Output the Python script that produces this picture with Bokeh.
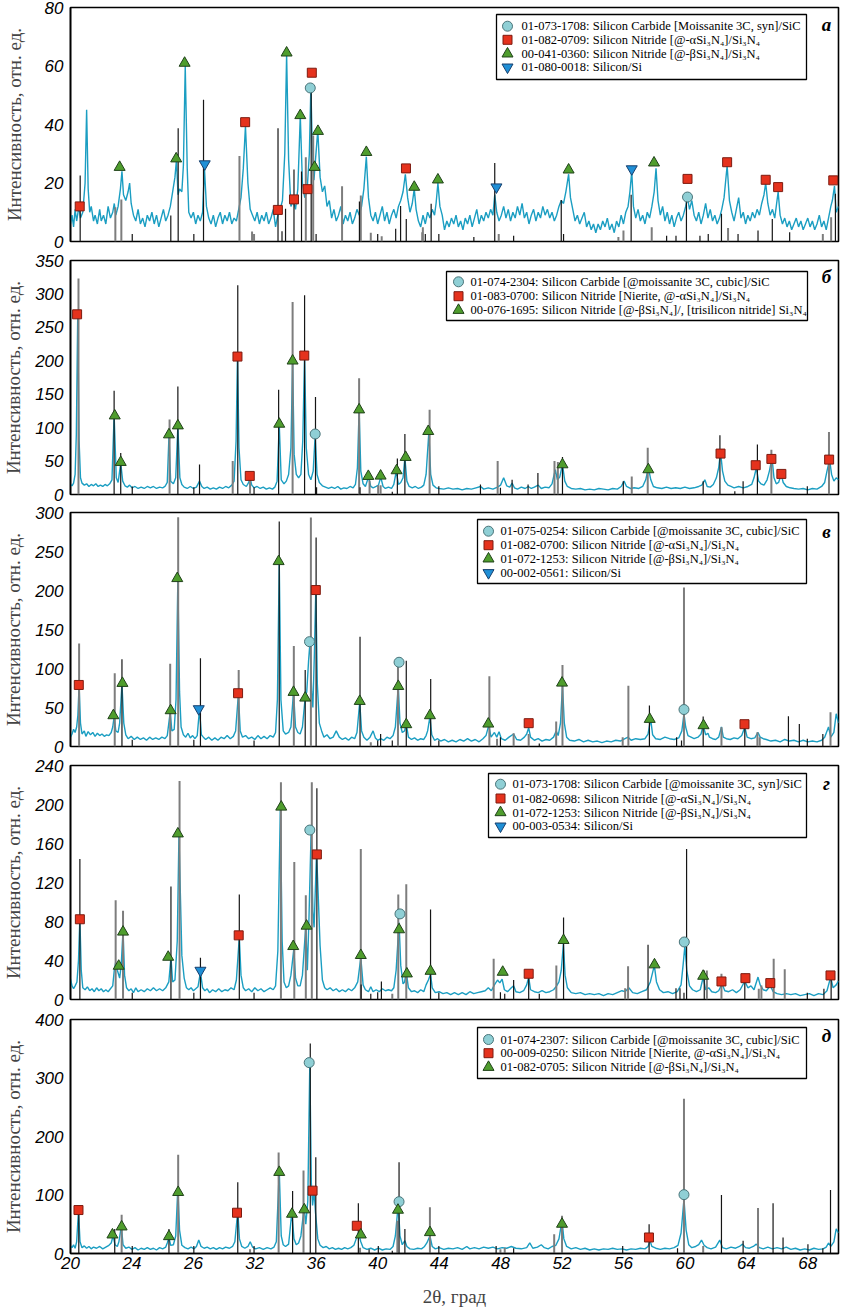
from bokeh.plotting import figure
from bokeh.layouts import column
from bokeh.models import Range1d, FixedTicker
from bokeh.core.properties import value
from bokeh.embed import file_html
from bokeh.resources import INLINE

# ---------------- data ----------------
x_ticks = [20, 24, 28, 32, 36, 40, 44, 48, 52, 56, 60, 64, 68]
x_tick_labels = ["20", "24", "26", "32", "36", "40", "44", "48", "52", "56", "60", "64", "68"]

# panel а
a_curve = [(20.0,6),(20.1,9),(20.2,5),(20.3,11),(20.4,7),(20.55,12),(20.65,8),(20.8,10),(20.95,20),(21.05,45),
 (21.15,18),(21.25,10),(21.35,12),(21.5,7),(21.6,9),(21.75,6),(21.9,11),(22.0,7),(22.15,9),(22.3,6),(22.45,12),
 (22.6,8),(22.75,10),(22.85,13),(22.95,9),(23.1,12),(23.25,18),(23.35,24),(23.45,16),(23.6,14),(23.75,17),(23.85,20),
 (23.95,13),(24.1,9),(24.25,7),(24.4,11),(24.55,6),(24.7,8),(24.85,5),(25.0,9),(25.15,7),(25.3,10),(25.45,6),(25.6,9),
 (25.75,5),(25.9,8),(26.05,11),(26.2,7),(26.35,9),(26.5,12),(26.65,17),(26.8,22),(26.9,28),(27.0,16),(27.1,18),
 (27.25,17),(27.35,26),(27.47,60),(27.6,25),(27.7,10),(27.85,8),(28.0,10),(28.15,6),(28.3,9),(28.45,7),(28.6,10),
 (28.72,25),(28.85,12),(29.0,8),(29.15,6),(29.3,9),(29.45,5),(29.6,8),(29.75,10),(29.9,6),(30.05,9),(30.2,7),
 (30.35,10),(30.5,6),(30.65,8),(30.8,7),(30.95,11),(31.1,15),(31.25,25),(31.39,39.5),(31.55,20),(31.7,11),(31.85,9),
 (32.0,7),(32.15,10),(32.3,6),(32.45,9),(32.6,7),(32.75,10),(32.9,6),(33.05,8),(33.2,11),(33.35,5),(33.5,9),
 (33.65,11),(33.8,14),(33.95,30),(34.07,64),(34.2,28),(34.35,12),(34.5,14),(34.65,11),(34.8,18),(34.96,43),(35.1,20),
 (35.25,15),(35.4,17),(35.55,30),(35.65,53),(35.75,30),(35.85,21),(35.95,28),(36.1,38),(36.25,22),(36.4,17),
 (36.55,19),(36.7,12),(36.85,14),(37.0,8),(37.15,11),(37.3,7),(37.45,9),(37.6,12),(37.75,6),(37.9,9),(38.05,7),
 (38.2,10),(38.35,6),(38.5,8),(38.65,11),(38.8,9),(38.95,12),(39.1,18),(39.26,29),(39.4,15),(39.55,9),(39.7,7),
 (39.85,10),(40.0,6),(40.15,9),(40.3,12),(40.45,7),(40.6,10),(40.75,6),(40.9,9),(41.05,11),(41.2,8),(41.35,12),
 (41.5,14),(41.65,17),(41.8,23),(41.95,15),(42.1,10),(42.25,13),(42.38,18),(42.5,11),(42.65,7),(42.8,5),(42.95,9),
 (43.1,6),(43.25,10),(43.4,8),(43.55,11),(43.7,9),(43.8,13),(43.92,20),(44.05,12),(44.2,9),(44.35,4),(44.5,7),
 (44.65,5),(44.8,8),(44.95,6),(45.1,9),(45.25,5),(45.4,7),(45.55,4),(45.7,8),(45.85,6),(46.0,9),(46.15,5),(46.3,8),
 (46.45,11),(46.6,6),(46.75,9),(46.9,7),(47.05,10),(47.2,8),(47.35,11),(47.5,9),(47.62,16),(47.75,10),(47.9,7),
 (48.05,9),(48.2,12),(48.35,8),(48.5,11),(48.65,7),(48.8,10),(48.95,8),(49.1,12),(49.25,9),(49.4,13),(49.55,8),
 (49.7,10),(49.85,6),(50.0,9),(50.15,11),(50.3,7),(50.45,10),(50.6,8),(50.75,12),(50.9,9),(51.05,11),(51.2,8),
 (51.35,10),(51.5,7),(51.65,9),(51.8,12),(51.95,14),(52.1,13),(52.25,17),(52.43,23),(52.55,15),(52.7,11),(52.85,7),
 (53.0,9),(53.15,6),(53.3,8),(53.45,10),(53.6,5),(53.75,7),(53.9,4),(54.05,6),(54.2,3),(54.35,6),(54.5,4),(54.65,7),
 (54.8,5),(54.95,8),(55.1,4),(55.25,6),(55.4,3),(55.55,7),(55.7,5),(55.85,9),(56.0,6),(56.15,10),(56.3,12),
 (56.42,17),(56.54,24),(56.65,12),(56.8,8),(56.95,11),(57.1,7),(57.25,9),(57.4,6),(57.55,10),(57.7,8),(57.85,12),
 (58.0,17),(58.12,25),(58.25,14),(58.4,9),(58.55,12),(58.7,7),(58.85,10),(59.0,6),(59.15,9),(59.3,5),(59.45,8),
 (59.6,10),(59.75,7),(59.9,9),(60.05,12),(60.17,15),(60.3,11),(60.45,14),(60.6,9),(60.75,7),(60.9,10),(61.05,6),
 (61.2,9),(61.35,13),(61.5,8),(61.65,11),(61.8,7),(61.95,9),(62.1,6),(62.25,8),(62.4,11),(62.55,15),(62.75,26),
 (62.9,14),(63.05,10),(63.2,7),(63.35,11),(63.5,15),(63.65,8),(63.8,10),(63.95,6),(64.1,9),(64.25,7),(64.4,10),
 (64.55,8),(64.7,11),(64.85,9),(65.0,13),(65.15,16),(65.26,20),(65.4,13),(65.55,9),(65.7,11),(65.85,8),(66.07,17),
 (66.2,9),(66.35,6),(66.5,8),(66.65,5),(66.8,7),(66.95,4),(67.1,6),(67.25,8),(67.4,5),(67.55,7),(67.7,4),(67.85,6),
 (68.0,8),(68.15,5),(68.3,7),(68.45,4),(68.6,6),(68.75,9),(68.9,5),(69.05,7),(69.2,4),(69.35,8),(69.5,12),(69.6,14),
 (69.74,19),(69.85,10),(70.0,12)]
a_dark = [(20.63,22.6),(24.02,2.6),(26.53,8.9),(27.01,38.7),(28.03,2.6),(28.66,48.5),(33.51,38.7),(33.77,3.5),
 (34.0,11.2),(34.55,24.6),(35.04,23.9),(35.67,52.5),(35.99,2.6),(38.81,13.7),(40.0,2.6),(41.17,4.4),(41.49,12.1),
 (41.86,7.7),(43.1,2.6),(43.48,12.9),(43.98,2.6),(46.26,1.5),(47.62,26.8),(48.85,2.0),(51.95,14.2),(52.1,2.6),
 (56.5,16.0),(58.81,2.0),(59.42,2.0),(60.1,15.2),(60.98,2.0),(61.52,2.6),(62.38,9.5),(63.46,2.6),(64.76,3.8),
 (65.69,7.7),(66.82,3.2),(69.8,16.3)]
a_light = [(22.92,11.7),(23.31,14.4),(31.0,29.2),(31.82,3.4),(31.95,2.6),(35.32,28.8),(35.8,36.2),(37.68,18.9),
 (38.9,15.7),(39.55,3.0),(40.26,1.8),(42.9,3.2),(42.94,4.9),(47.88,2.6),(55.67,1.5),(56.0,3.8),(57.84,4.9),
 (62.81,4.6),(68.98,2.6),(69.52,8.3)]
a_sic = [(35.61,52.5),(60.17,15.2)]
a_alpha = [(20.6,12.0),(31.37,40.8),(33.5,10.8),(34.55,14.4),(35.43,17.9),(35.71,57.7),(41.84,25.0),(60.17,21.4),
 (62.75,27.1),(65.26,21.1),(66.07,18.6),(69.66,20.9)]
a_beta = [(23.2,25.4),(26.88,28.3),(27.43,61.0),(34.07,64.5),(34.96,43.1),(35.89,25.4),(36.11,37.7),(39.26,30.5),
 (42.38,18.6),(43.92,21.1),(52.43,24.5),(57.99,26.9)]
a_si = [(28.74,26.5),(47.73,18.6),(56.54,24.8)]
a_legend = ["01-073-1708: Silicon Carbide [Moissanite 3C, syn]/SiC",
            "01-082-0709: Silicon Nitride [@-αSi₃N₄]/Si₃N₄",
            "00-041-0360: Silicon Nitride [@-βSi₃N₄]/Si₃N₄",
            "01-080-0018: Silicon/Si"]
a_yticks = [0, 20, 40, 60, 80]

# panel б
b_curve = [(20.0,15),(20.1,13),(20.2,17),(20.3,30),(20.38,90),(20.47,266),(20.56,80),(20.65,25),(20.75,17),(20.9,14),
 (21.05,16),(21.2,12),(21.35,15),(21.5,13),(21.65,16),(21.8,12),(21.95,14),(22.1,12),(22.25,15),(22.4,13),(22.55,16),
 (22.7,22),(22.84,119),(22.98,25),(23.1,18),(23.27,47),(23.4,20),(23.55,13),(23.7,11),(23.85,14),(24.0,10),(24.2,12),
 (24.4,9),(24.6,11),(24.8,9),(25.0,12),(25.2,10),(25.4,12),(25.6,9),(25.8,11),(26.0,10),(26.15,12),(26.3,18),
 (26.41,87),(26.52,20),(26.7,16),(26.85,25),(26.99,102),(27.12,25),(27.25,15),(27.4,11),(27.6,9),(27.8,12),(28.0,9),
 (28.2,11),(28.4,20),(28.55,12),(28.7,9),(28.9,11),(29.1,8),(29.3,10),(29.5,8),(29.7,11),(29.9,9),(30.1,12),
 (30.3,10),(30.5,14),(30.65,20),(30.78,80),(30.87,206),(30.97,70),(31.1,22),(31.25,15),(31.45,12),(31.6,18),
 (31.69,25),(31.8,14),(31.95,10),(32.15,12),(32.35,9),(32.55,11),(32.75,8),(32.95,10),(33.15,8),(33.3,11),(33.45,20),
 (33.59,105),(33.72,22),(33.9,16),(34.05,20),(34.2,30),(34.35,70),(34.46,199),(34.56,60),(34.7,30),(34.85,25),
 (35.0,30),(35.12,80),(35.24,209),(35.35,70),(35.5,30),(35.65,22),(35.8,35),(35.93,89),(36.05,30),(36.2,18),
 (36.4,13),(36.6,11),(36.8,9),(37.0,11),(37.2,9),(37.4,12),(37.6,8),(37.8,10),(38.0,9),(38.2,12),(38.4,10),
 (38.55,15),(38.68,40),(38.79,127),(38.9,35),(39.05,16),(39.2,12),(39.4,26),(39.55,12),(39.7,10),(39.9,12),
 (40.05,14),(40.2,26),(40.35,12),(40.5,9),(40.7,11),(40.9,9),(41.05,15),(41.21,35),(41.35,15),(41.5,18),(41.65,25),
 (41.77,55),(41.9,20),(42.05,12),(42.25,10),(42.45,12),(42.65,9),(42.85,11),(43.0,14),(43.15,30),(43.33,93),
 (43.45,30),(43.6,14),(43.8,10),(44.0,9),(44.3,8),(44.6,10),(44.9,8),(45.2,9),(45.5,7),(45.8,9),(46.1,8),(46.4,10),
 (46.7,12),(46.9,8),(47.2,10),(47.5,8),(47.8,11),(48.0,14),(48.2,25),(48.4,13),(48.6,11),(48.75,17),(48.9,10),
 (49.1,8),(49.35,11),(49.6,9),(49.8,12),(50.0,9),(50.2,11),(50.45,14),(50.65,9),(50.9,11),(51.15,10),(51.35,16),
 (51.56,37),(51.7,22),(51.85,26),(52.03,45),(52.18,20),(52.35,12),(52.6,9),(52.9,8),(53.2,9),(53.5,7),(53.8,8),
 (54.1,7),(54.4,9),(54.7,8),(55.0,7),(55.3,9),(55.6,8),(55.85,12),(56.04,20),(56.2,12),(56.45,9),(56.7,10),(57.0,9),
 (57.25,12),(57.45,22),(57.62,40),(57.78,22),(57.95,12),(58.2,10),(58.5,9),(58.8,11),(59.1,9),(59.4,10),(59.7,9),
 (60.0,11),(60.3,9),(60.6,10),(60.9,12),(61.1,14),(61.3,22),(61.45,12),(61.65,11),(61.85,15),(62.05,25),(62.2,40),
 (62.32,64),(62.45,35),(62.6,20),(62.8,14),(63.0,12),(63.2,10),(63.5,12),(63.8,10),(64.1,12),(64.35,15),(64.5,25),
 (64.65,40),(64.8,20),(64.95,16),(65.15,14),(65.35,22),(65.5,35),(65.67,55),(65.8,25),(65.95,16),(66.1,18),
 (66.27,30),(66.4,18),(66.6,12),(66.85,10),(67.1,9),(67.4,8),(67.7,9),(68.0,7),(68.3,9),(68.6,8),(68.9,12),
 (69.1,18),(69.25,35),(69.42,52),(69.55,30),(69.7,20),(69.85,25),(70.0,22)]
b_dark = [(22.84,155),(23.27,62),(24.02,12),(26.99,161.6),(28.03,11),(28.4,45),(30.89,313),(31.95,11),(33.55,156.6),
 (35.24,298),(35.95,145.7),(36.02,11),(38.85,11),(40.95,4),(41.28,53.7),(41.77,90.5),(43.98,12.4),(46.69,15),
 (47.99,10),(48.75,22),(49.79,15),(50.43,32),(52.03,56),(55.99,20),(61.19,20),(62.28,88.5),(63.25,5),(63.79,20),
 (64.72,74.6),(67.97,12.4)]
b_light = [(20.52,323),(26.45,112),(30.56,50),(31.69,25),(34.46,288),(38.79,174),(39.47,21),(40.03,14),(40.19,14),
 (43.38,126.8),(47.81,50),(51.51,50),(51.73,48.5),(56.54,27),(57.58,70),(65.63,67),(69.38,93.5)]
b_sic = [(35.93,90.5)]
b_alpha = [(20.43,269.5),(30.87,206.3),(31.67,27.8),(35.22,207.8),(62.32,61.2),(64.61,43.8),(65.63,53.2),
 (66.28,30.8),(69.39,52.2)]
b_beta = [(22.88,117.8),(23.27,48.2),(26.41,89.5),(26.99,102.9),(33.59,105.4),(34.46,199.9),(38.79,126.8),
 (39.39,27.3),(40.19,27.8),(41.23,35.8),(41.82,55.7),(43.29,94.5),(52.03,44.7),(57.62,37.3)]
b_si = []
b_legend = ["01-074-2304: Silicon Carbide [@moissanite 3C, cubic]/SiC",
            "01-083-0700: Silicon Nitride [Nierite, @-αSi₃N₄]/Si₃N₄",
            "00-076-1695: Silicon Nitride [@-βSi₃N₄]/, [trisilicon nitride] Si₃N₄"]
b_yticks = [0, 50, 100, 150, 200, 250, 300, 350]

# panel в
v_curve = [(20.0,12),(20.1,16),(20.2,22),(20.3,18),(20.4,25),(20.48,40),(20.56,78),(20.65,30),(20.75,16),(20.9,20),
 (21.0,13),(21.15,19),(21.3,15),(21.45,18),(21.6,13),(21.75,17),(21.9,14),(22.05,16),(22.2,13),(22.35,15),(22.5,14),
 (22.65,18),(22.75,25),(22.84,38),(22.95,20),(23.1,18),(23.2,30),(23.35,80),(23.47,30),(23.6,15),(23.75,10),
 (23.95,13),(24.15,9),(24.35,12),(24.55,9),(24.75,11),(24.95,8),(25.15,12),(25.35,9),(25.55,11),(25.75,9),(25.95,12),
 (26.15,10),(26.3,14),(26.49,44),(26.6,20),(26.75,22),(26.87,60),(26.99,215),(27.1,70),(27.2,25),(27.35,15),
 (27.5,12),(27.65,17),(27.8,11),(27.95,14),(28.1,10),(28.25,14),(28.4,48),(28.52,15),(28.65,12),(28.8,9),(29.0,12),
 (29.2,8),(29.4,11),(29.6,8),(29.8,12),(30.0,10),(30.2,14),(30.4,10),(30.6,13),(30.75,20),(30.93,67),(31.05,20),
 (31.2,12),(31.4,14),(31.6,10),(31.8,12),(32.0,9),(32.2,14),(32.4,10),(32.6,13),(32.8,10),(33.0,14),(33.2,12),
 (33.35,18),(33.47,60),(33.59,236),(33.7,60),(33.85,20),(34.0,16),(34.2,18),(34.35,25),(34.52,70),(34.65,25),
 (34.8,18),(34.95,16),(35.1,25),(35.28,63),(35.38,70),(35.5,110),(35.6,136),(35.7,70),(35.78,50),(35.88,120),
 (35.97,202),(36.07,80),(36.2,30),(36.35,20),(36.5,12),(36.7,15),(36.9,10),(37.1,12),(37.3,20),(37.5,12),(37.7,9),
 (37.9,11),(38.1,8),(38.3,12),(38.5,10),(38.65,18),(38.83,57),(38.95,20),(39.1,12),(39.3,8),(39.5,12),(39.7,20),
 (39.85,11),(40.0,8),(40.2,10),(40.4,8),(40.6,12),(40.8,10),(41.0,14),(41.15,25),(41.34,78),(41.45,30),(41.6,18),
 (41.75,20),(41.86,29),(42.0,12),(42.2,9),(42.4,11),(42.6,8),(42.8,10),(43.0,9),(43.15,14),(43.25,20),(43.4,38),
 (43.52,15),(43.7,8),(43.9,10),(44.1,7),(44.35,9),(44.6,6),(44.85,8),(45.1,6),(45.35,9),(45.6,7),(45.85,10),
 (46.1,7),(46.35,9),(46.6,6),(46.85,10),(47.05,14),(47.23,27),(47.38,12),(47.6,18),(47.75,12),(47.9,19),(48.05,10),
 (48.3,8),(48.55,12),(48.85,16),(49.05,9),(49.3,8),(49.55,12),(49.7,16),(49.83,24),(49.95,12),(50.2,8),(50.45,10),
 (50.7,7),(50.95,9),(51.2,8),(51.45,12),(51.62,20),(51.75,14),(51.9,30),(52.03,78),(52.15,30),(52.3,12),(52.5,8),
 (52.8,7),(53.1,9),(53.4,6),(53.7,8),(54.0,6),(54.3,7),(54.6,5),(54.9,7),(55.2,6),(55.5,8),(55.8,7),(56.1,10),
 (56.3,12),(56.5,8),(56.8,10),(57.1,9),(57.4,10),(57.6,16),(57.77,35),(57.9,15),(58.1,10),(58.4,9),(58.7,12),
 (59.0,10),(59.3,9),(59.6,11),(59.8,20),(59.94,42),(60.05,25),(60.2,14),(60.4,12),(60.6,10),(60.85,12),(61.05,16),
 (61.19,27),(61.35,15),(61.5,17),(61.6,12),(61.8,10),(62.0,9),(62.2,12),(62.38,25),(62.5,12),(62.7,10),(62.95,9),
 (63.2,11),(63.45,10),(63.7,14),(63.9,25),(64.05,12),(64.3,10),(64.55,11),(64.76,18),(64.9,12),(65.1,10),(65.3,9),
 (65.6,7),(65.9,8),(66.2,6),(66.5,9),(66.8,7),(67.1,8),(67.4,6),(67.7,8),(68.0,6),(68.3,7),(68.6,6),(68.9,8),
 (69.1,12),(69.35,25),(69.5,12),(69.7,18),(69.85,42),(70.0,30)]
v_dark = [(23.35,112),(24.02,8.5),(28.03,8.5),(28.46,113),(31.95,7.7),(33.59,288.5),(35.28,98),(35.99,268),
 (38.85,140.8),(40.0,7.7),(40.19,16),(40.95,7.7),(41.86,110),(43.45,86.6),(43.98,7.7),(47.99,12),(50.52,4),
 (57.69,52.5),(59.46,12),(59.78,7.7),(61.19,38.4),(63.9,34),(66.74,38.8),(67.45,29),(67.97,9.8),(68.98,16)]
v_light = [(20.56,132),(22.88,94),(26.49,106),(27.01,294),(30.95,98),(34.54,129),(35.65,293.6),(39.55,5.5),
 (41.32,108),(47.27,90),(47.77,9.8),(48.85,17),(49.83,16),(51.62,32),(52.03,104.5),(55.95,12),(56.32,78),
 (59.94,204),(62.38,24.8),(64.72,18.4),(64.87,12),(69.48,44)]
v_sic = [(35.56,134.4),(41.39,108.0),(59.94,47.4)]
v_alpha = [(20.54,78.9),(30.91,68.3),(35.97,200.6),(49.83,29.9),(63.88,28.6)]
v_beta = [(22.79,39.7),(23.38,81.1),(26.52,46.1),(26.95,215.5),(33.55,237.3),(34.52,69.6),(35.28,62.3),(38.83,58.0),
 (41.34,77.2),(41.86,28.2),(43.4,39.7),(47.2,29.0),(52.0,81.5),(57.71,35.0),(61.21,26.9)]
v_si = [(28.35,48.2)]
v_legend = ["01-075-0254: Silicon Carbide [@moissanite 3C, cubic]/SiC",
            "01-082-0700: Silicon Nitride [@-αSi₃N₄]/Si₃N₄",
            "01-072-1253: Silicon Nitride [@-βSi₃N₄]/Si₃N₄",
            "00-002-0561: Silicon/Si"]
v_yticks = [0, 50, 100, 150, 200, 250, 300]

# panel г
g_curve = [(20.0,21),(20.1,14),(20.2,11),(20.3,14),(20.42,18),(20.52,40),(20.61,83),(20.7,30),(20.8,12),(20.95,10),
 (21.1,13),(21.25,9),(21.4,11),(21.55,8),(21.7,12),(21.85,9),(22.0,11),(22.15,8),(22.3,10),(22.45,8),(22.6,11),
 (22.75,14),(22.85,30),(22.94,38),(23.05,30),(23.2,22),(23.3,35),(23.42,71),(23.52,25),(23.65,12),(23.8,9),
 (23.95,11),(24.1,7),(24.25,12),(24.4,8),(24.6,10),(24.8,8),(25.0,11),(25.2,9),(25.4,12),(25.6,9),(25.8,11),(26.0,9),
 (26.2,12),(26.4,18),(26.54,43),(26.65,18),(26.8,20),(26.95,60),(27.06,169),(27.15,110),(27.25,45),(27.4,22),
 (27.55,12),(27.7,10),(27.85,12),(28.0,9),(28.15,11),(28.3,13),(28.46,28),(28.6,12),(28.75,9),(28.9,11),(29.05,7),
 (29.25,10),(29.45,8),(29.65,11),(29.85,8),(30.05,10),(30.25,9),(30.45,12),(30.65,10),(30.8,20),(30.99,64),(31.1,25),
 (31.25,12),(31.4,9),(31.6,11),(31.8,8),(32.0,12),(32.2,9),(32.4,11),(32.6,8),(32.8,10),(33.0,12),(33.2,10),
 (33.35,14),(33.5,50),(33.66,196),(33.78,60),(33.9,18),(34.05,12),(34.2,14),(34.35,25),(34.54,52),(34.65,22),
 (34.8,14),(34.95,14),(35.1,25),(35.32,76),(35.42,30),(35.52,80),(35.67,175),(35.78,90),(35.86,74),(36.02,151),
 (36.12,110),(36.25,55),(36.4,20),(36.55,12),(36.7,10),(36.9,12),(37.1,9),(37.3,11),(37.5,8),(37.7,10),(37.9,8),
 (38.1,11),(38.3,9),(38.5,12),(38.7,18),(38.9,43),(39.05,15),(39.2,10),(39.4,8),(39.55,13),(39.7,8),(39.9,10),
 (40.1,8),(40.3,11),(40.5,9),(40.7,10),(40.9,9),(41.05,12),(41.2,30),(41.39,79),(41.5,35),(41.65,16),(41.75,18),
 (41.86,28),(42.0,12),(42.2,8),(42.4,9),(42.6,7),(42.8,10),(43.0,8),(43.15,15),(43.3,20),(43.44,26),(43.55,12),
 (43.75,7),(44.0,8),(44.25,6),(44.5,7),(44.75,5),(45.0,7),(45.25,5),(45.5,7),(45.75,5),(46.0,8),(46.25,6),(46.5,7),
 (46.75,8),(47.0,9),(47.2,12),(47.4,9),(47.6,15),(47.8,20),(47.95,17),(48.1,21),(48.25,10),(48.45,8),(48.7,12),
 (48.85,14),(49.0,8),(49.25,7),(49.5,9),(49.7,15),(49.83,23),(49.95,10),(50.2,8),(50.45,7),(50.7,9),(50.95,7),
 (51.2,8),(51.45,10),(51.65,14),(51.8,18),(51.95,30),(52.09,57),(52.2,25),(52.35,12),(52.6,7),(52.9,6),(53.2,7),
 (53.5,5),(53.8,6),(54.1,5),(54.4,6),(54.7,4),(55.0,6),(55.3,5),(55.6,7),(55.9,9),(56.1,8),(56.35,12),(56.6,7),
 (56.9,6),(57.2,8),(57.5,10),(57.75,18),(58.01,35),(58.15,18),(58.35,10),(58.6,7),(58.9,8),(59.2,6),(59.5,8),
 (59.75,15),(59.88,35),(60.0,55),(60.12,30),(60.3,14),(60.5,10),(60.75,8),(61.0,10),(61.19,23),(61.35,10),
 (61.55,12),(61.75,8),(62.0,7),(62.2,9),(62.42,16),(62.6,9),(62.85,8),(63.1,10),(63.35,7),(63.6,10),(63.9,19),
 (64.1,12),(64.3,14),(64.5,10),(64.76,23),(64.9,15),(65.1,10),(65.3,9),(65.56,14),(65.75,8),(66.0,6),(66.3,5),
 (66.6,6),(66.9,5),(67.2,6),(67.5,4),(67.8,5),(68.1,6),(68.4,4),(68.7,6),(69.0,5),(69.25,9),(69.49,23),(69.65,12),
 (69.85,15),(70.0,19)]
g_dark = [(20.61,144),(24.02,6.9),(26.54,116),(28.03,6.9),(28.46,42.9),(30.99,107.7),(31.95,6.9),(36.04,216.7),
 (38.92,15.4),(39.55,5.8),(40.0,7.5),(40.24,18.5),(43.44,92.2),(43.98,6.9),(47.99,7.5),(48.27,5.8),(48.85,20),
 (49.83,28),(50.52,5.8),(52.1,84),(57.6,56.2),(59.42,11.6),(59.68,11.6),(59.94,6.9),(60.11,154.3),(61.26,29.8),
 (63.9,26.4),(67.97,6.9),(69.05,11),(69.52,23)]
g_light = [(22.94,101.8),(23.42,90.9),(27.1,224),(33.7,222.9),(34.57,141),(35.32,107),(35.71,222.9),(38.9,154.3),
 (40.95,5.8),(41.34,107.7),(41.86,118.3),(47.55,41.8),(51.63,35),(56.11,11.6),(56.3,34),(61.43,29.8),(62.38,26.4),
 (64.81,11),(64.98,14.4),(65.78,41.8),(66.5,30.9)]
g_sic = [(35.58,173.8),(41.45,87.8),(59.96,59.0)]
g_alpha = [(20.61,82.3),(30.95,65.8),(36.04,148.8),(49.83,26.4),(62.38,18.5),(63.94,21.9),(65.56,16.8),(69.48,24.7)]
g_beta = [(23.14,34.3),(23.42,69.3),(26.36,43.5),(26.99,170.0),(33.72,197.5),(34.5,54.5),(35.37,75.4),(38.9,45.3),
 (41.39,71.7),(41.9,26.4),(43.44,29.1),(48.14,28.1),(52.1,60.7),(58.02,35.7),(61.19,24.0)]
g_si = [(28.46,29.8)]
g_legend = ["01-073-1708: Silicon Carbide [@moissanite 3C, syn]/SiC",
            "01-082-0698: Silicon Nitride [@-αSi₃N₄]/Si₃N₄",
            "01-072-1253: Silicon Nitride [@-βSi₃N₄]/Si₃N₄",
            "00-003-0534: Silicon/Si"]
g_yticks = [0, 40, 80, 120, 160, 200, 240]

# panel д
d_curve = [(20.0,13),(20.1,10),(20.2,15),(20.3,9),(20.4,20),(20.52,73),(20.62,20),(20.75,10),(20.9,13),(21.05,9),
 (21.2,12),(21.35,8),(21.5,11),(21.7,9),(21.9,12),(22.1,8),(22.3,11),(22.5,14),(22.65,18),(22.77,30),(22.9,15),
 (23.05,12),(23.15,20),(23.31,47),(23.42,15),(23.6,9),(23.8,11),(24.0,7),(24.2,10),(24.4,6),(24.6,9),(24.8,7),
 (25.0,10),(25.2,7),(25.4,9),(25.6,6),(25.8,10),(26.0,8),(26.2,11),(26.3,18),(26.41,27),(26.52,14),(26.7,15),
 (26.85,30),(26.99,113),(27.1,40),(27.25,14),(27.45,10),(27.65,8),(27.85,11),(28.05,8),(28.2,12),(28.35,23),
 (28.5,12),(28.7,9),(28.9,11),(29.1,8),(29.3,10),(29.5,7),(29.7,10),(29.9,8),(30.1,11),(30.35,9),(30.55,12),
 (30.7,20),(30.89,73),(31.0,25),(31.15,12),(31.35,9),(31.55,12),(31.7,20),(31.85,11),(32.05,8),(32.3,10),(32.55,7),
 (32.8,10),(33.05,8),(33.25,11),(33.4,20),(33.59,142),(33.72,30),(33.85,15),(34.0,12),(34.2,16),(34.41,70),
 (34.55,25),(34.7,15),(34.85,18),(35.0,30),(35.21,79),(35.32,50),(35.45,90),(35.58,325),(35.68,120),(35.76,82),
 (35.86,107),(35.95,70),(36.1,25),(36.25,14),(36.45,10),(36.65,12),(36.85,8),(37.05,10),(37.25,7),(37.45,9),
 (37.65,7),(37.85,10),(38.05,8),(38.25,10),(38.45,14),(38.6,25),(38.74,36),(38.9,20),(39.05,10),(39.3,7),(39.55,9),
 (39.8,6),(40.05,9),(40.3,6),(40.55,8),(40.8,7),(41.0,12),(41.15,30),(41.34,85),(41.45,30),(41.6,15),(41.77,22),
 (41.9,12),(42.1,8),(42.35,7),(42.6,9),(42.85,8),(43.05,12),(43.2,18),(43.4,30),(43.55,12),(43.75,8),(44.0,10),
 (44.3,7),(44.6,9),(44.9,8),(45.2,10),(45.5,7),(45.8,12),(46.0,8),(46.3,10),(46.6,8),(46.9,11),(47.2,9),(47.5,11),
 (47.8,8),(48.1,10),(48.4,9),(48.7,12),(49.0,9),(49.35,8),(49.7,10),(49.9,18),(50.1,9),(50.4,11),(50.65,15),
 (50.85,10),(51.1,8),(51.35,12),(51.6,14),(51.8,25),(52.0,56),(52.12,25),(52.3,12),(52.6,8),(52.9,10),(53.2,7),
 (53.5,9),(53.8,6),(54.1,8),(54.4,6),(54.7,8),(55.0,7),(55.3,9),(55.6,7),(55.9,8),(56.2,6),(56.5,8),(56.8,7),
 (57.1,9),(57.4,8),(57.6,12),(57.73,22),(57.85,12),(58.1,9),(58.4,7),(58.7,9),(59.0,8),(59.3,10),(59.55,14),
 (59.75,35),(59.94,93),(60.08,40),(60.25,15),(60.45,10),(60.7,12),(60.9,15),(61.08,23),(61.25,14),(61.45,10),
 (61.7,8),(62.0,11),(62.27,23),(62.45,10),(62.7,8),(63.0,11),(63.3,9),(63.55,12),(63.75,16),(63.95,10),(64.2,9),
 (64.45,12),(64.65,16),(64.85,10),(65.1,8),(65.4,11),(65.7,8),(66.0,10),(66.3,8),(66.6,11),(66.9,7),(67.2,9),
 (67.5,6),(67.8,8),(68.1,6),(68.4,9),(68.7,7),(69.0,8),(69.2,11),(69.35,18),(69.5,12),(69.7,20),(69.85,42),(70.0,35)]
d_dark = [(20.54,74.3),(22.88,41.7),(24.02,13),(26.41,41.7),(28.03,13),(30.89,121.7),(31.95,13),(34.46,106.9),
 (35.61,358.9),(35.97,164.6),(38.74,85.7),(39.44,7.4),(40.04,13),(40.95,4.6),(41.39,156),(41.77,41.7),(43.98,13),
 (47.71,13),(48.85,9),(55.95,13),(57.67,50),(59.52,9),(62.38,100),(63.79,21.7),(65.74,85.7),(66.39,27.4),(68.01,16),
 (68.98,9),(69.48,108.6)]
d_light = [(23.33,66.3),(27.01,169),(31.69,7.4),(33.55,172.6),(35.17,141.7),(38.85,10),(41.28,56),(43.4,78.9),
 (47.99,7.4),(48.27,10),(51.49,33),(52.0,64.6),(59.94,264.6),(61.19,13),(64.76,77.7)]
d_sic = [(35.54,326.3),(41.39,88.6),(59.94,100.6)]
d_alpha = [(20.52,74.3),(30.84,69.7),(35.76,107.4),(38.64,47.4),(57.66,27.4)]
d_beta = [(22.73,32.0),(23.33,45.7),(26.41,29.1),(27.01,104.6),(33.59,138.9),(34.42,67.4),(35.22,74.9),(38.9,32.0),
 (41.32,74.3),(43.4,36.0),(52.0,50.3)]
d_si = []
d_legend = ["01-074-2307: Silicon Carbide [@moissanite 3C, cubic]/SiC",
            "00-009-0250: Silicon Nitride [Nierite, @-αSi₃N₄]/Si₃N₄",
            "01-082-0705: Silicon Nitride [@-βSi₃N₄]/Si₃N₄"]
d_yticks = [0, 100, 200, 300, 400]

# ---------------- style ----------------
FW, FH = 768, 234
X0, X1 = 20, 70
CURVE = "#1b9ec2"
DARK = "#151515"
GRAY = "#7d7d7d"
MARK = {
    "sic": dict(marker="circle", size=10, fill_color="#8fcfd5", line_color="#4a7479"),
    "alpha": dict(marker="square", size=9, fill_color="#e5321d", line_color="#7d1b10"),
    "beta": dict(marker="triangle", size=11, fill_color="#4f9d2d", line_color="#20421a"),
    "si": dict(marker="inverted_triangle", size=11, fill_color="#1f8fd6", line_color="#173f6d"),
}
YLABEL = "Интенсивность, отн. ед."


def make_panel(curve, dark, light, groups, labels, ymax, yticks, letter, leg, top, last, lab_stand):
    kw = dict(frame_width=FW, frame_height=FH, x_range=Range1d(X0, X1), y_range=Range1d(0, ymax),
              output_backend="svg", toolbar_location=None, min_border_left=62, min_border_right=2,
              min_border_top=top, min_border_bottom=0 if last else 9,
              background_fill_color="white", border_fill_color="white")
    if not last:
        kw["x_axis_location"] = None
    p = figure(**kw)
    p.outline_line_color = "black"
    p.outline_line_width = 1.6
    p.xgrid.visible = False
    p.ygrid.visible = False

    def fx(px):
        return X0 + px / FW * (X1 - X0)

    def fy(py):
        return ymax * (1 - py / FH)

    cx, cy = zip(*curve)
    p.line(list(cx), list(cy), line_color=CURVE, line_width=1.4)
    if light:
        lx, lh = zip(*light)
        p.segment(x0=list(lx), y0=[0] * len(lx), x1=list(lx), y1=list(lh), line_color=GRAY, line_width=2)
    if dark:
        dx, dh = zip(*dark)
        p.segment(x0=list(dx), y0=[0] * len(dx), x1=list(dx), y1=list(dh), line_color=DARK, line_width=1.2)
    for key, pts in groups:
        if pts:
            mx, my = zip(*pts)
            p.scatter(list(mx), list(my), line_width=1, **MARK[key])

    # legend box
    bl, br, bt, bb = leg["box"]
    p.quad(left=[fx(bl)], right=[fx(br)], top=[fy(bt)], bottom=[fy(bb)], fill_color="white",
           line_color="black", line_width=1.3)
    for (key, _), lab, ry in zip(groups, labels, leg["rows"]):
        p.scatter([fx(leg["mx"])], [fy(ry)], line_width=1, **MARK[key])
    p.text(x=[fx(leg["tx"])] * len(labels), y=[fy(r) for r in leg["rows"][:len(labels)]], text=labels,
           text_font=value("Liberation Serif"), text_font_size=value("12.5px"), text_baseline="middle",
           text_align="left", text_color="black")
    p.text(x=[fx(756)], y=[fy(leg["ly"])], text=[letter], text_font=value("Liberation Serif"),
           text_font_style="bold italic", text_font_size=value("19px"), text_baseline="middle",
           text_align="center", text_color="black")

    ax = p.yaxis[0]
    ax.ticker = FixedTicker(ticks=yticks)
    ax.axis_label = YLABEL
    ax.axis_label_text_font = "Liberation Serif"
    ax.axis_label_text_font_style = "normal"
    ax.axis_label_text_font_size = "19px"
    ax.axis_label_standoff = lab_stand
    ax.major_label_text_font = "Liberation Sans"
    ax.major_label_text_font_style = "italic"
    ax.major_label_text_font_size = "17px"
    ax.major_label_text_color = "black"
    ax.major_label_standoff = 7
    ax.major_tick_out = 0
    ax.major_tick_in = 0
    ax.minor_tick_out = 0
    ax.minor_tick_in = 0
    ax.major_tick_line_color = None
    ax.minor_tick_line_color = None
    ax.axis_line_color = "black"
    ax.axis_line_width = 1.6
    if last:
        xa = p.xaxis[0]
        xa.ticker = FixedTicker(ticks=x_ticks)
        xa.major_label_overrides = {t: s for t, s in zip(x_ticks, x_tick_labels)}
        xa.axis_label = "2θ, град"
        xa.axis_label_text_font = "Liberation Serif"
        xa.axis_label_text_font_style = "normal"
        xa.axis_label_text_font_size = "19px"
        xa.axis_label_standoff = 14
        xa.major_label_text_font = "Liberation Sans"
        xa.major_label_text_font_style = "italic"
        xa.major_label_text_font_size = "17px"
        xa.major_label_text_color = "black"
        xa.major_label_standoff = 3
        xa.major_tick_out = 0
        xa.major_tick_in = 0
        xa.minor_tick_out = 0
        xa.minor_tick_in = 0
        xa.major_tick_line_color = None
        xa.minor_tick_line_color = None
        xa.axis_line_color = "black"
        xa.axis_line_width = 1.6
    return p


LEG_A = dict(box=(426, 736, 7, 72), mx=437, tx=451, rows=[18.7, 32.3, 46.3, 59.7], ly=17)
LEG_B = dict(box=(376, 737, 11, 60), mx=388, tx=400, rows=[21.3, 35.7, 49.7], ly=16)
LEG_V = dict(box=(407, 736, 7, 71), mx=418, tx=430, rows=[18.7, 32.7, 46.3, 60.3], ly=19)
LEG_G = dict(box=(418, 736, 8, 72), mx=430, tx=442, rows=[18.7, 33.0, 47.0, 60.7], ly=18)
LEG_D = dict(box=(407, 736, 8, 59), mx=418, tx=430, rows=[20.0, 33.7, 47.7], ly=16)

pa = make_panel(a_curve, a_dark, a_light,
                [("sic", a_sic), ("alpha", a_alpha), ("beta", a_beta), ("si", a_si)],
                a_legend, 80, a_yticks, "а", LEG_A, 7, False, 17)
pb = make_panel(b_curve, b_dark, b_light,
                [("sic", b_sic), ("alpha", b_alpha), ("beta", b_beta)],
                b_legend, 350, b_yticks, "б", LEG_B, 10, False, 8)
pv = make_panel(v_curve, v_dark, v_light,
                [("sic", v_sic), ("alpha", v_alpha), ("beta", v_beta), ("si", v_si)],
                v_legend, 300, v_yticks, "в", LEG_V, 9, False, 8)
pg = make_panel(g_curve, g_dark, g_light,
                [("sic", g_sic), ("alpha", g_alpha), ("beta", g_beta), ("si", g_si)],
                g_legend, 240, g_yticks, "г", LEG_G, 10, False, 8)
pd = make_panel(d_curve, d_dark, d_light,
                [("sic", d_sic), ("alpha", d_alpha), ("beta", d_beta)],
                d_legend, 400, d_yticks, "д", LEG_D, 11, True, 8)

layout = column(pa, pb, pv, pg, pd, spacing=0)
open("out.html", "w").write(file_html(layout, INLINE))
